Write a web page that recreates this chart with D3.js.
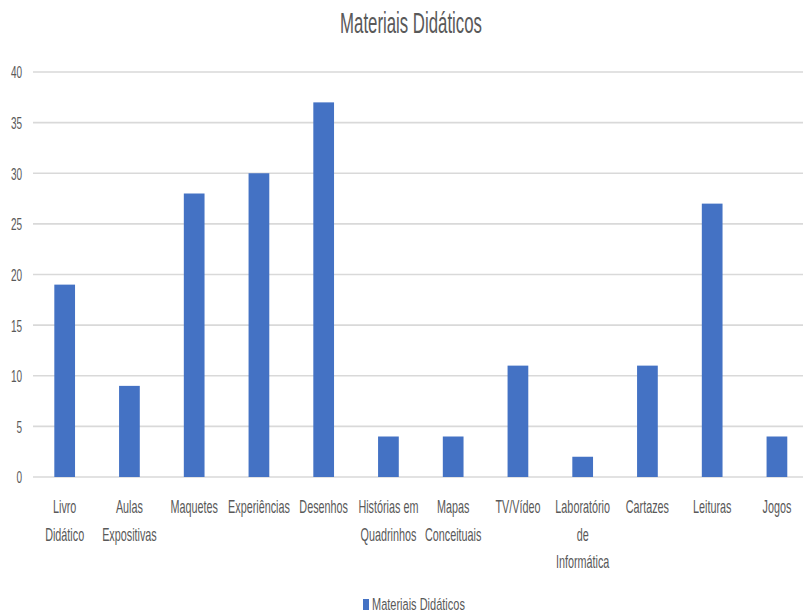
<!DOCTYPE html>
<html><head><meta charset="utf-8">
<script src="https://cdn.jsdelivr.net/npm/d3@7"></script>
<style>body{margin:0;background:#fff}svg{display:block}text{font-family:"Liberation Sans",Arial,sans-serif;fill:#595959}</style>
</head><body>
<script>
const categories = [["Livro","Didático"],["Aulas","Expositivas"],["Maquetes"],["Experiências"],["Desenhos"],["Histórias em","Quadrinhos"],["Mapas","Conceituais"],["TV/Vídeo"],["Laboratório","de","Informática"],["Cartazes"],["Leituras"],["Jogos"]];
const values = [19,9,28,30,37,4,4,11,2,11,27,4];
const yTicks = [0,5,10,15,20,25,30,35,40];
const title = "Materiais Didáticos";
const seriesName = "Materiais Didáticos";

const W=803,H=613;
const svg=d3.select("body").append("svg").attr("width",W).attr("height",H);
const keys=categories.map(c=>c.join(" "));
const x=d3.scaleBand().domain(keys).range([32.3,809.3]).paddingInner(0.68).paddingOuter(0.34);
const y=d3.scaleLinear().domain([0,40]).range([477,72]);

// gridlines
svg.append("g").selectAll("line").data(yTicks).join("line")
  .attr("x1",33).attr("x2",W).attr("y1",d=>y(d)).attr("y2",d=>y(d))
  .attr("stroke","#d9d9d9").attr("stroke-width",1.6);

// y axis labels
const ya=svg.append("g").attr("transform","translate(33,0)")
  .call(d3.axisLeft(y).tickValues(yTicks).tickSize(0).tickPadding(11));
ya.select(".domain").remove();
ya.selectAll("text").attr("font-size",10).attr("fill","#595959")
  .attr("font-family","Liberation Sans, Arial, sans-serif")
  .attr("dy",0).attr("y",3.6).attr("transform","scale(1,1.65)");

// bars
svg.append("g").selectAll("rect").data(values).join("rect")
  .attr("x",(d,i)=>x(keys[i])).attr("width",x.bandwidth())
  .attr("y",d=>y(d)).attr("height",d=>y(0)-y(d)).attr("fill","#4472C4");

// category labels
const lab=svg.append("g").selectAll("g").data(categories).join("g")
  .attr("transform",(d,i)=>`translate(${x(keys[i])+x.bandwidth()/2},513) scale(1,1.72)`);
lab.selectAll("text").data(d=>d).join("text")
  .attr("text-anchor","middle").attr("font-size",10.8)
  .attr("y",(d,i)=>i*16.1).text(d=>d);

// title
svg.append("text").attr("transform","translate(411,33) scale(1,1.75)")
  .attr("text-anchor","middle").attr("font-size",16.8).text(title);

// legend
svg.append("rect").attr("x",363).attr("y",599).attr("width",6).attr("height",11).attr("fill","#4472C4");
svg.append("text").attr("transform","translate(372,609.5) scale(1,1.5)")
  .attr("font-size",11).text(seriesName);
</script>
</body></html>
